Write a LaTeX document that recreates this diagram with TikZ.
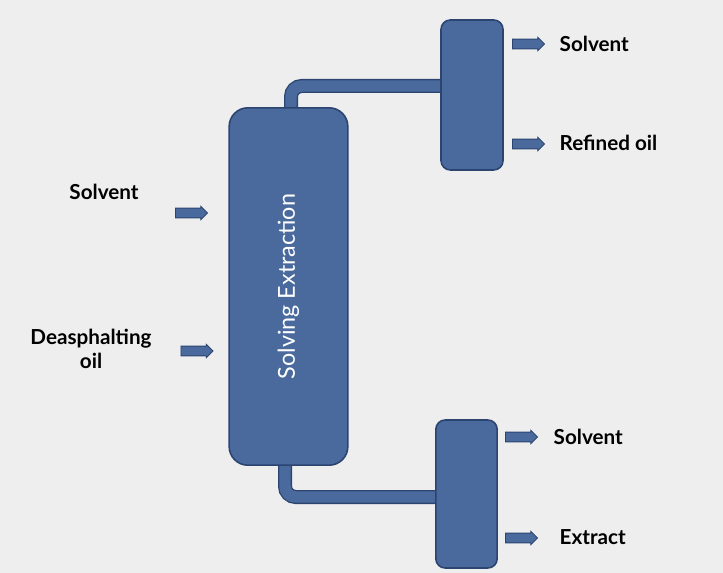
\documentclass[tikz,border=0pt]{standalone}
\usepackage{fontspec}
\setmainfont{Lato}
\usetikzlibrary{shapes.arrows}
\definecolor{bg}{HTML}{EEEEEE}
\definecolor{fillb}{HTML}{4A6A9E}
\definecolor{edgeb}{HTML}{2C4570}
\tikzset{
 vessel/.style={draw=edgeb,fill=fillb,line width=1.2pt,rounded corners=10pt,inner sep=0pt},
 barrow/.style={single arrow,draw=edgeb,fill=fillb,line width=0.6pt,minimum height=24pt,minimum width=10pt,single arrow head extend=1pt,single arrow head indent=0pt,inner xsep=0pt,inner ysep=2.4pt},
 lbl/.style={font=\bfseries\fontsize{15.5}{18}\selectfont,text=black,align=center}
}
\begin{document}
\begin{tikzpicture}[x=0.75pt,y=-0.75pt]
\fill[bg] (0,0) rectangle (723,573);
\useasboundingbox (0,0) rectangle (723,573);
% pipes
\coordinate (p1) at (291,110);
\coordinate (p2) at (291,86);
\coordinate (p3) at (445,86);
\coordinate (q1) at (285,460);
\coordinate (q2) at (285,497);
\coordinate (q3) at (440,497);
\draw[edgeb,line width=10.5pt,rounded corners=8pt] (p1)--(p2)--(p3);
\draw[fillb,line width=8.5pt,rounded corners=8pt] (p1)--(p2)--(p3);
\draw[edgeb,line width=10.5pt,rounded corners=8pt] (q1)--(q2)--(q3);
\draw[fillb,line width=8.5pt,rounded corners=8pt] (q1)--(q2)--(q3);
% vessels
\node[vessel,minimum width=89pt,minimum height=268pt,rounded corners=14pt] (col) at (288.5,286.5) {};
\node[rotate=90,text=white,font=\fontsize{17.5}{20}\selectfont] (coltxt) at (col.center) {Solving Extraction};
\node[vessel,minimum width=46.5pt,minimum height=112.5pt,rounded corners=7pt] (top) at (472,95) {};
\node[vessel,minimum width=46pt,minimum height=111pt,rounded corners=7pt] (bot) at (466.5,494) {};
% arrows
\node[barrow] (a1) at (189,213) {};
\node[barrow] (a2) at (194.5,351) {};
\node[barrow] (a3) at (526,44) {};
\node[barrow] (a4) at (526,144) {};
\node[barrow] (a5) at (519,437) {};
\node[barrow] (a6) at (519,538) {};
% labels
\node[lbl] (l1) at (104,192) {Solvent};
\node[lbl] (l2) at (91,349) {Deasphalting\\oil};
\node[lbl,anchor=west] (l3) at (555,44) {Solvent};
\node[lbl,anchor=west] (l4) at (555,143) {Refined oil};
\node[lbl,anchor=west] (l5) at (549,437) {Solvent};
\node[lbl,anchor=west] (l6) at (555,537) {Extract};
\end{tikzpicture}
\end{document}
